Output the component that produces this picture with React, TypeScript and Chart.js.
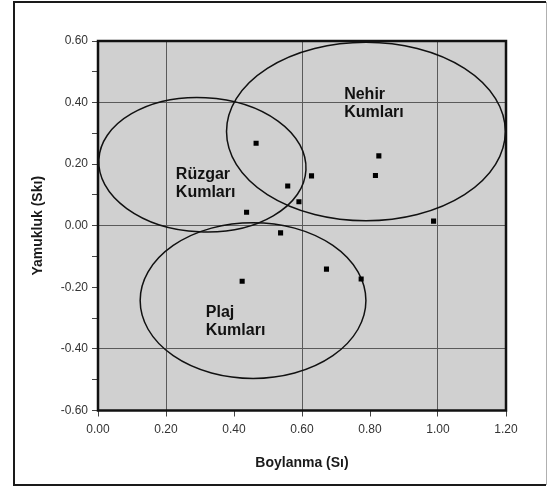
import React, { useEffect, useRef } from 'react';
import { Chart, registerables } from 'chart.js';

Chart.register(...registerables);

// Data points: sorting (Sı) vs skewness (Skı)
const sortingValues = [0.465, 0.558, 0.628, 0.591, 0.437, 0.537, 0.826, 0.816, 0.987, 0.424, 0.672, 0.774];
const skewnessValues = [0.268, 0.129, 0.162, 0.078, 0.044, -0.023, 0.227, 0.163, 0.015, -0.18, -0.141, -0.173];

// Group ellipses (data units)
const groupLines = [['Rüzgar', 'Kumları'], ['Nehir', 'Kumları'], ['Plaj', 'Kumları']];
const ellipseCenterX = [0.307, 0.788, 0.456];
const ellipseCenterY = [0.198, 0.306, -0.243];
const ellipseRadiusX = [0.305, 0.41, 0.332];
const ellipseRadiusY = [0.218, 0.29, 0.253];
const ellipseTilt = [0.05, 0, 0];
const labelX = [0.229, 0.724, 0.317];
const labelY = [0.152, 0.412, -0.295];

const xMin = 0;
const xMax = 1.2;
const yMin = -0.6;
const yMax = 0.6;
const xGridValues = [0.2, 0.6, 1.0];
const yGridValues = [0.4, 0.0, -0.4];

const xTitle = 'Boylanma (Sı)';
const yTitle = 'Yamukluk (Skı)';

const FONT = '"Liberation Sans", Arial, Helvetica, sans-serif';

const decorPlugin = {
  id: 'decor',
  beforeDraw(chart: any) {
    const { ctx, chartArea: a, width, height } = chart;
    ctx.save();
    ctx.fillStyle = '#ffffff';
    ctx.fillRect(0, 0, width, height);
    ctx.fillStyle = '#d0d0d0';
    ctx.fillRect(a.left, a.top, a.right - a.left, a.bottom - a.top);
    // outer frame
    ctx.strokeStyle = '#1a1a1a';
    ctx.lineWidth = 2;
    ctx.beginPath();
    ctx.moveTo(546, 2);
    ctx.lineTo(14, 2);
    ctx.lineTo(14, 485);
    ctx.lineTo(546, 485);
    ctx.stroke();
    ctx.strokeStyle = '#b0b0b0';
    ctx.lineWidth = 1;
    ctx.beginPath();
    ctx.moveTo(546.5, 2);
    ctx.lineTo(546.5, 485);
    ctx.stroke();
    ctx.restore();
  },
  beforeDatasetsDraw(chart: any) {
    const { ctx, scales } = chart;
    const xs = scales.x;
    const ys = scales.y;
    ctx.save();
    ctx.strokeStyle = '#111';
    ctx.lineWidth = 1.5;
    for (let i = 0; i < ellipseCenterX.length; i++) {
      const cx = xs.getPixelForValue(ellipseCenterX[i]);
      const cy = ys.getPixelForValue(ellipseCenterY[i]);
      const rx = Math.abs(xs.getPixelForValue(ellipseCenterX[i] + ellipseRadiusX[i]) - cx);
      const ry = Math.abs(ys.getPixelForValue(ellipseCenterY[i] + ellipseRadiusY[i]) - cy);
      ctx.beginPath();
      ctx.ellipse(cx, cy, rx, ry, ellipseTilt[i], 0, Math.PI * 2);
      ctx.stroke();
    }
    ctx.fillStyle = '#111';
    ctx.font = `bold 16px ${FONT}`;
    ctx.textAlign = 'left';
    ctx.textBaseline = 'alphabetic';
    for (let i = 0; i < groupLines.length; i++) {
      const lx = xs.getPixelForValue(labelX[i]);
      const ly = ys.getPixelForValue(labelY[i]);
      groupLines[i].forEach((t, k) => ctx.fillText(t, lx, ly + k * 18.5));
    }
    ctx.restore();
  },
  afterDraw(chart: any) {
    const { ctx, chartArea: a } = chart;
    ctx.save();
    ctx.strokeStyle = '#111';
    ctx.lineWidth = 2.5;
    ctx.strokeRect(a.left, a.top, a.right - a.left, a.bottom - a.top);
    ctx.restore();
  },
};

const near = (v: number, list: number[]) => list.some((g) => Math.abs(g - v) < 1e-6);

export default function App() {
  const ref = useRef<HTMLCanvasElement | null>(null);
  useEffect(() => {
    if (!ref.current) return;
    const chart = new Chart(ref.current, {
      type: 'scatter',
      data: {
        datasets: [
          {
            data: sortingValues.map((x, i) => ({ x, y: skewnessValues[i] })),
            pointStyle: 'rect',
            pointRadius: 3.6,
            pointHoverRadius: 3.6,
            backgroundColor: '#000',
            borderColor: '#000',
            borderWidth: 0,
          },
        ],
      },
      options: {
        responsive: false,
        animation: false,
        events: [],
        layout: { padding: { top: 41, right: 42, bottom: 0, left: 0 } },
        plugins: { legend: { display: false }, tooltip: { enabled: false } },
        scales: {
          x: {
            type: 'linear',
            min: xMin,
            max: xMax,
            afterFit: (s: any) => {
              s.height = 78.5;
            },
            ticks: {
              stepSize: 0.2,
              padding: 6,
              color: '#333',
              font: { family: FONT, size: 12 },
              callback: (v: any) => Number(v).toFixed(2),
            },
            grid: {
              color: (c: any) => (c.tick && near(c.tick.value, xGridValues) ? '#5a5a5a' : 'rgba(0,0,0,0)'),
              tickColor: '#444',
              tickLength: 6,
              lineWidth: 1,
            },
            border: { display: false },
            title: {
              display: true,
              text: xTitle,
              color: '#1a1a1a',
              font: { family: FONT, size: 14, weight: 'bold' },
              padding: { top: 0, bottom: 17 },
            },
          },
          y: {
            type: 'linear',
            min: yMin,
            max: yMax,
            afterFit: (s: any) => {
              s.width = 98;
            },
            ticks: {
              stepSize: 0.1,
              padding: 4,
              color: '#333',
              font: { family: FONT, size: 12 },
              autoSkip: false,
              callback: (v: any) => (Math.round(Number(v) * 10) % 2 === 0 ? Number(v).toFixed(2) : ''),
            },
            grid: {
              color: (c: any) => (c.tick && near(c.tick.value, yGridValues) ? '#5a5a5a' : 'rgba(0,0,0,0)'),
              tickColor: '#444',
              tickLength: 6,
              lineWidth: 1,
            },
            border: { display: false },
            title: {
              display: true,
              text: yTitle,
              color: '#1a1a1a',
              font: { family: FONT, size: 14, weight: 'bold' },
              padding: { top: 30, bottom: 0 },
            },
          },
        },
      },
      plugins: [decorPlugin],
    } as any);
    return () => chart.destroy();
  }, []);
  return (
    <div style={{ position: 'absolute', left: 0, top: 0, width: 548, height: 489 }}>
      <canvas ref={ref} width={548} height={489} style={{ display: 'block', width: 548, height: 489 }} />
    </div>
  );
}
